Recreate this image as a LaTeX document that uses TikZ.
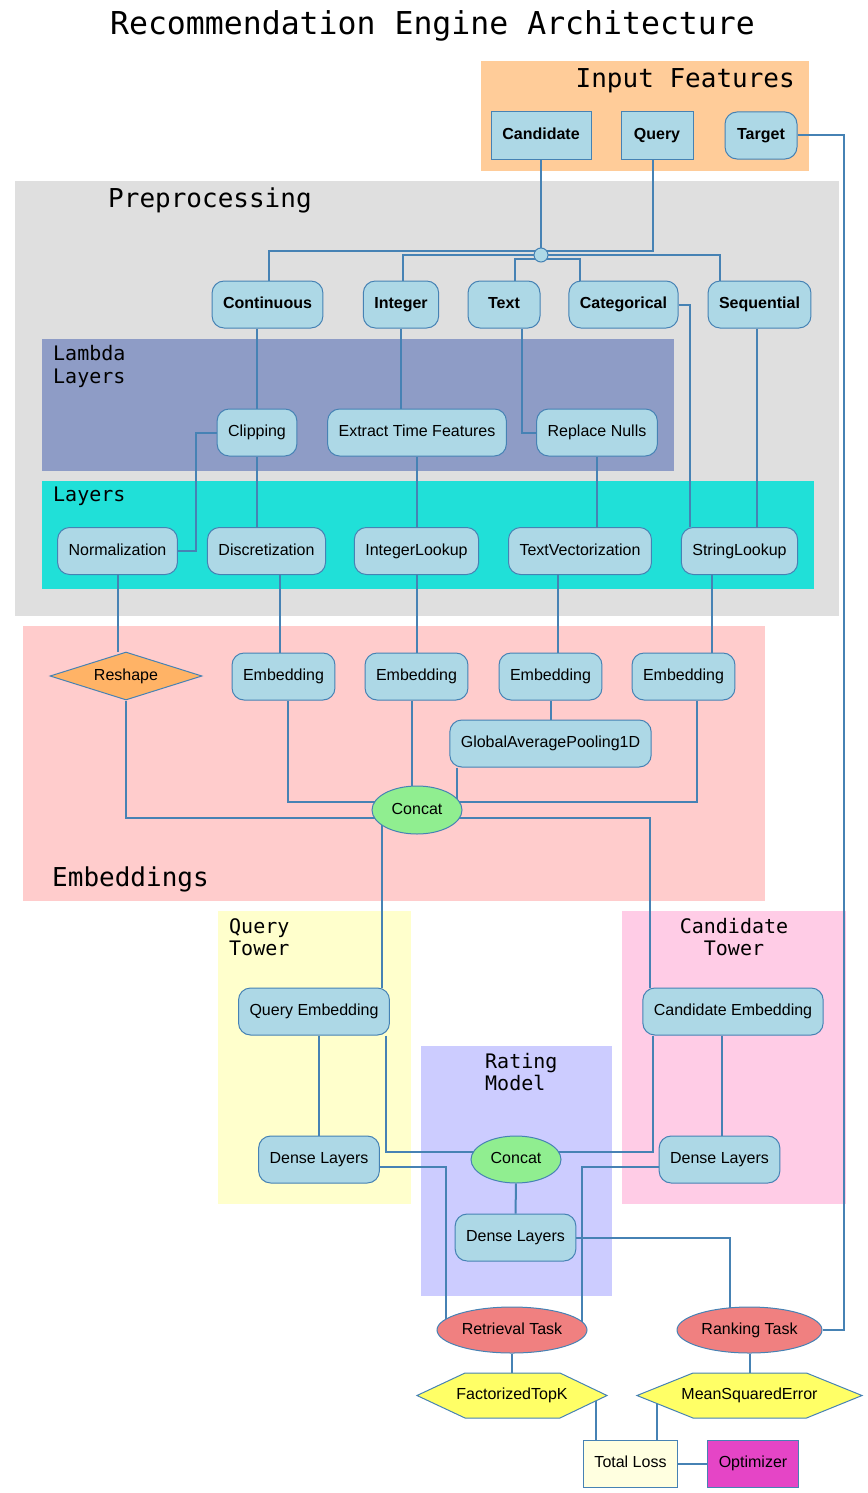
\documentclass[tikz,border=0pt]{standalone}
\usepackage{fontspec}
\setmainfont{Liberation Sans}
\setmonofont{DejaVu Sans Mono}
\usetikzlibrary{shapes.geometric}

\definecolor{steel}{HTML}{4682B4}
\definecolor{lblue}{HTML}{ADD8E6}
\definecolor{peach}{HTML}{FFCC99}
\definecolor{greybg}{HTML}{DFDFDF}
\definecolor{lambdabg}{HTML}{8E9CC6}
\definecolor{layerbg}{HTML}{20E0D8}
\definecolor{embbg}{HTML}{FFCCCC}
\definecolor{qtowbg}{HTML}{FFFFCC}
\definecolor{ctowbg}{HTML}{FFCCE6}
\definecolor{ratebg}{HTML}{CCCCFF}
\definecolor{reshorange}{HTML}{FFB366}
\definecolor{catgreen}{HTML}{90EE90}
\definecolor{taskred}{HTML}{F08080}
\definecolor{hexyellow}{HTML}{FFFF66}
\definecolor{lossyellow}{HTML}{FFFFE0}
\definecolor{optpink}{HTML}{E545C6}

\pgfdeclarelayer{background}
\pgfsetlayers{background,main}

\begin{document}
\begin{tikzpicture}[
                x = 1pt, y = -1pt, % one unit per pixel, y runs down
                wire/.style = {draw = steel, line width = 2pt}, % connectors
                clbig/.style = {font = \ttfamily\fontsize{26}{30}\selectfont},
                clsmall/.style = {font = \ttfamily\fontsize{20}{22.3}\selectfont, align = left}
            ]

            \tikzstyle{every node}=[inner sep = 0pt, font = \fontsize{16}{19}\selectfont]
            \tikzstyle{txt}=[text height = 11.7pt, text depth = 3.4pt]
            \tikzstyle{rbox}=[txt, rectangle, draw = steel, fill = lblue, line width = 1pt,
            rounded corners = 12pt, minimum width = 72pt, minimum height = 47pt,
            inner xsep = 11pt]
            \tikzstyle{sbox}=[rbox, sharp corners]
            \tikzstyle{feat}=[rbox, font = \fontsize{16}{19}\selectfont\bfseries]
            \tikzstyle{oval}=[txt, ellipse, draw = steel, line width = 1pt, minimum height = 47pt]
            \tikzstyle{hexa}=[draw = steel, fill = hexyellow, line width = 1pt]

            \useasboundingbox (0,0) rectangle (867,1493);

            % clusters
            \begin{pgfonlayer}{background}
            \fill[peach] (481,61) rectangle (809,171);
            \fill[greybg] (15,181) rectangle (839,616);
            \fill[lambdabg] (42,339) rectangle (674,471);
            \fill[layerbg] (42,481) rectangle (814,589);
            \fill[embbg] (23,626) rectangle (765,901);
            \fill[qtowbg] (218,911) rectangle (411,1204);
            \fill[ctowbg] (622,911) rectangle (846,1204);
            \fill[ratebg] (421,1046) rectangle (612,1296);
            \end{pgfonlayer}

            \node[font = \ttfamily\fontsize{31.5}{36}\selectfont, anchor = base] (title)
            at (432.5,35) {Recommendation Engine Architecture};
            \node[clbig, anchor = base east] (infl) at (795,88) {Input Features};
            \node[clbig, anchor = base west] (prepl) at (108,207) {Preprocessing};
            \node[clsmall, anchor = north west] (lambl) at (53,345.5) {Lambda\\Layers};
            \node[clsmall, anchor = base west] (layl) at (53,501.7) {Layers};
            \node[clbig, anchor = base west] (embl) at (52,886.7) {Embeddings};
            \node[clsmall, anchor = north west] (qtl) at (229,918) {Query\\Tower};
            \node[clsmall, anchor = north, align = center] (ctl) at (734,918) {Candidate\\Tower};
            \node[clsmall, anchor = north west] (ratl) at (485,1053) {Rating\\Model};

            \node[feat, sharp corners, minimum width = 100pt] (cand) at (541,135.5) {Candidate};
            \node[feat, sharp corners] (qry) at (657,135.5) {Query};
            \node[feat] (tgt) at (761,135.5) {Target};
            \node[circle, draw = steel, fill = lblue, line width = 1pt, minimum size = 14pt]
            (junc) at (541,255) {};

            \node[feat] (cont) at (267.5,304.5) {Continuous}; \node[feat] (intg) at
            (401,304.5) {Integer}; \node[feat] (text) at (504,304.5) {Text};
            \node[feat] (catg) at (623.5,304.5) {Categorical}; \node[feat] (seqn) at
            (759.5,304.5) {Sequential};

            \node[rbox] (clip) at (257,432.5) {Clipping}; \node[rbox] (etf) at
            (417,432.5) {Extract Time Features}; \node[rbox] (rnull) at (597,432.5)
            {Replace Nulls};

            \node[rbox] (norm) at (117.5,551) {Normalization}; \node[rbox] (disc) at
            (266.5,551) {Discretization}; \node[rbox] (ilook) at (416.5,551)
            {IntegerLookup}; \node[rbox] (tvec) at (580,551) {TextVectorization};
            \node[rbox] (slook) at (739.5,551) {StringLookup};

            \node[txt, diamond, draw = steel, fill = reshorange, line width = 1pt, aspect = 3.2,
            minimum width = 152pt, minimum height = 48pt] (resh) at (126,676) {Reshape};
            \node[rbox] (emb1) at (283.5,676.5) {Embedding}; \node[rbox] (emb2) at
            (416.5,676.5) {Embedding}; \node[rbox] (emb3) at (550.5,676.5) {Embedding};
            \node[rbox] (emb4) at (683.5,676.5) {Embedding};
            \node[rbox] (gap) at (550.5,743.5) {GlobalAveragePooling1D};
            \node[oval, fill = catgreen, minimum width = 90pt, minimum height = 48pt]
            (cat1) at (417,810) {Concat};

            \node[rbox] (qemb) at (314,1011.5) {Query Embedding}; \node[rbox] (cemb) at
            (733,1011.5) {Candidate Embedding};
            \node[rbox] (qdense) at (319,1159.5) {Dense Layers};
            \node[oval, fill = catgreen, minimum width = 90pt] (cat2) at (516,1159.5) {Concat};
            \node[rbox] (cdense) at (719.5,1159.5) {Dense Layers};
            \node[rbox] (rdense) at (515.5,1237.5) {Dense Layers};

            \node[oval, fill = taskred, minimum width = 150pt, minimum height = 46pt]
            (rtask) at (512,1330) {Retrieval Task};
            \node[oval, fill = taskred, minimum width = 145pt, minimum height = 46pt]
            (ktask) at (749.5,1330) {Ranking Task};

            \filldraw[hexa] (512,1395.5) +(-95,0) -- +(-47,-22.5) -- +(48,-22.5) -- +(95,0)
            -- +(48,22.5) -- +(-47,22.5) -- cycle;
            \node[txt] (ftk) at (512,1395.5) {FactorizedTopK};
            \filldraw[hexa] (749.5,1395.5) +(-112.5,0) -- +(-56.5,-22.5) -- +(57,-22.5)
            -- +(112.5,0) -- +(57,22.5) -- +(-56.5,22.5) -- cycle;
            \node[txt] (mse) at (749.5,1395.5) {MeanSquaredError};

            \node[sbox, fill = lossyellow] (tloss) at (630.5,1463.5) {Total Loss};
            \node[sbox, fill = optpink, minimum width = 90pt] (opt) at (753,1463.5) {Optimizer};

            % connectors, kept under the nodes
            \begin{pgfonlayer}{background}
            \draw[wire] (cand) -- (junc);
            \draw[wire] ([xshift=-4pt]qry.south) |- ([yshift=4pt]junc.center);
            \draw[wire] ([yshift=4pt]junc.center) -| ([xshift=1.5pt]cont.north);
            \draw[wire] (junc.center) -| ([xshift=2pt]intg.north);
            \draw[wire] ([yshift=-4pt]junc.center) -| ([xshift=11pt]text.north);
            \draw[wire] ([yshift=-4pt]junc.center) -| ([xshift=-43.5pt]catg.north);
            \draw[wire] (junc.center) -| ([xshift=-39.5pt]seqn.north);

            \draw[wire] (cont.south -| clip.north) -- (clip.north);
            \draw[wire] (intg.south) -- (intg.south |- etf.north);
            \draw[wire] ([xshift=18pt]text.south) |- (rnull.west);
            \draw[wire] (catg.east) -| ([xshift=-50pt]slook.north);
            \draw[wire] ([xshift=-3pt]seqn.south) -- ([xshift=-3pt]seqn.south |- slook.north);

            \draw[wire] (clip.west) -- ++(-21,0) |- (norm.east);
            \draw[wire] (clip.south) -- (clip.south |- disc.north);
            \draw[wire] (etf.south) -- (etf.south |- ilook.north);
            \draw[wire] (rnull.south) -- (rnull.south |- tvec.north);

            \draw[wire] (norm.south) -- (norm.south |- resh.north);
            \draw[wire] ([xshift=13.5pt]disc.south) -- ([xshift=13.5pt]disc.south |- emb1.north);
            \draw[wire] (ilook.south) -- (ilook.south |- emb2.north);
            \draw[wire] ([xshift=-22pt]tvec.south) -- ([xshift=-22pt]tvec.south |- emb3.north);
            \draw[wire] ([xshift=-28pt]slook.south) -- ([xshift=-28pt]slook.south |- emb4.north);
            \draw[wire] (emb3) -- (gap);

            \draw[wire] ([xshift=4.5pt]emb1.south) |- ([yshift=8pt]cat1.center);
            \draw[wire] ([xshift=-5pt]emb2.south) -- ([xshift=-5pt]emb2.south |- cat1.center);
            \draw[wire] ([xshift=-93.5pt]gap.south) -- ([xshift=-93.5pt]gap.south |- cat1.center);
            \draw[wire] ([xshift=13.5pt]emb4.south) |- ([yshift=8pt]cat1.center);
            \draw[wire] (resh.south) |- ([yshift=-8pt]cat1.center);
            \draw[wire] ([yshift=-8pt]cat1.center) -| ([xshift=-83pt]cemb.north);
            \draw[wire] ([xshift=-35pt]cat1.center) -- ([xshift=-35pt]cat1.center |- qemb.north);

            \draw[wire] (qdense.north |- qemb.south) -- (qdense.north);
            \draw[wire] ([xshift=72pt]qemb.south) |- ([yshift=8pt]cat2.center);
            \draw[wire] ([xshift=-80pt]cemb.south) |- ([yshift=8pt]cat2.center);
            \draw[wire] ([xshift=2.5pt]cdense.north |- cemb.south) -- ([xshift=2.5pt]cdense.north);

            \draw[wire] ([yshift=-7pt]qdense.east) -| ([xshift=-66pt]rtask.center);
            \draw[wire] ([yshift=-7pt]cdense.west) -| ([xshift=70pt]rtask.center);
            \draw[wire] (cat2) -- (rdense);
            \draw[wire] (rdense.east) -| ([xshift=-20pt]ktask.center);
            \draw[wire] (tgt.east) -- ++(46.5,0) |- (ktask.east);

            \draw[wire] (rtask) -- (ftk);
            \draw[wire] (ktask) -- (mse);
            \draw[wire] ([xshift=-35pt]tloss.north) -- ([xshift=-35pt]tloss.north |- ftk.center);
            \draw[wire] ([xshift=26.5pt]tloss.north) -- ([xshift=26.5pt]tloss.north |- mse.center);
            \draw[wire] (tloss) -- (opt);
            \end{pgfonlayer}

        \end{tikzpicture}
\end{document}
